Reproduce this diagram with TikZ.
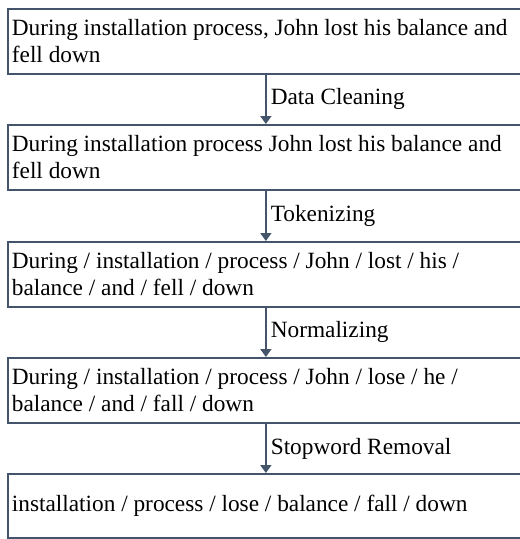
\documentclass[tikz,border=0pt]{standalone}
\usepackage{fontspec}
\setmainfont{Liberation Serif}
\usetikzlibrary{arrows.meta}
\definecolor{edge}{HTML}{44546A}
\begin{document}
\begin{tikzpicture}[x=1pt,y=-1pt,
  stepbox/.style={draw=edge, line width=1.8pt, rectangle, anchor=north west,
    minimum width=516pt, minimum height=65pt, text width=508pt, align=flush left,
    inner xsep=2pt, inner ysep=0pt, font=\fontsize{23.3}{27}\selectfont},
  flow/.style={draw=edge, line width=1.8pt, -{Triangle[width=11pt,length=8pt]}},
  lbl/.style={right, inner xsep=4pt, font=\fontsize{23.3}{27}\selectfont}]
\useasboundingbox (0,0) rectangle (520,539);
\fill[white] (0,0) rectangle (520,539);
\node[stepbox] (b1) at (7,8) {During installation process, John lost his balance and\\fell down};
\node[stepbox] (b2) at (7,124) {During installation process John lost his balance and\\fell down};
\node[stepbox] (b3) at (7,241) {During / installation / process / John / lost / his /\\balance / and / fell / down};
\node[stepbox] (b4) at (7,357) {During / installation / process / John / lose / he /\\balance / and / fall / down};
\node[stepbox, minimum height=64pt] (b5) at (7,473) {installation / process / lose / balance / fall / down};
\draw[flow] (b1.south) -- (b2.north) node[lbl, midway] {Data Cleaning};
\draw[flow] (b2.south) -- (b3.north) node[lbl, midway] {Tokenizing};
\draw[flow] (b3.south) -- (b4.north) node[lbl, midway] {Normalizing};
\draw[flow] (b4.south) -- (b5.north) node[lbl, midway] {Stopword Removal};
\end{tikzpicture}
\end{document}
